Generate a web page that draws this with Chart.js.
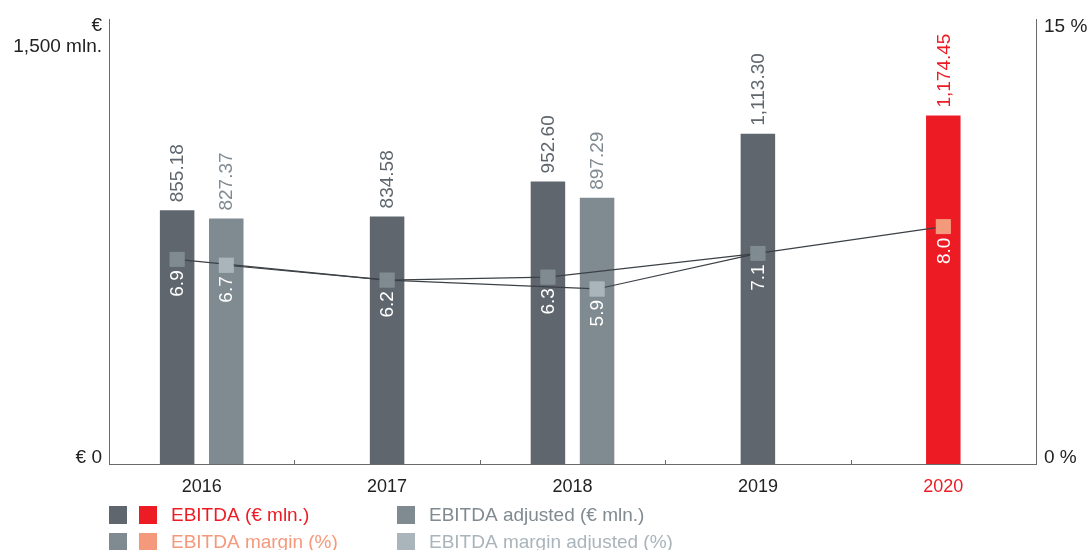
<!DOCTYPE html>
<html><head><meta charset="utf-8">
<script src="https://cdn.jsdelivr.net/npm/chart.js@4.4.0/dist/chart.umd.min.js"></script>
<style>html,body{margin:0;padding:0;background:#fff;} #wrap{width:1090px;height:550px;position:relative;}</style>
</head><body><div id="wrap"><canvas id="c"></canvas></div>
<script>
const categories = ['2016', '2017', '2018', '2019', '2020'];
const ebitda = [855.18, 834.58, 952.60, 1113.30, 1174.45];
const ebitdaAdjusted = [827.37, null, 897.29, null, null];
const ebitdaMargin = [6.9, 6.2, 6.3, 7.1, 8.0];
const ebitdaMarginAdjusted = [6.7, 6.2, 5.9, 7.1, null];
const leftAxisTicks = [0, 1500];
const leftAxisLabels = ['€ 0', '1,500 mln.'];
const leftAxisUnit = '€';
const rightAxisTicks = [0, 15];
const rightAxisLabels = ['0 %', '15 %'];
const legendLabels = ['EBITDA (€ mln.)', 'EBITDA adjusted (€ mln.)', 'EBITDA margin (%)', 'EBITDA margin adjusted (%)'];
const highlightIndex = 4;

const C = { dark:'#5f666d', red:'#ed1c24', mid:'#7f8a91', salmon:'#f4997b', light:'#a9b4bb', line:'#3c4146', axis:'#6a6a6a', text:'#222222' };
const FONT = '"Liberation Sans", Arial, Helvetica, sans-serif';
const fmt2 = v => v.toLocaleString('en-US', {minimumFractionDigits:2, maximumFractionDigits:2});

const custom = {
  id: 'custom',
  afterDatasetsUpdate(chart) {
    const barMeta = chart.getDatasetMeta(0), adjMeta = chart.getDatasetMeta(1);
    const pairs = [
      [2, i => barMeta.data[i]],
      [3, i => (ebitdaAdjusted[i] != null ? adjMeta.data[i] : barMeta.data[i])]
    ];
    pairs.forEach(([di, src]) => {
      const meta = chart.getDatasetMeta(di);
      meta.data.forEach((pt, i) => { const b = src(i); if (b) pt.x = b.x; });
      if (meta.dataset) meta.dataset._path = undefined;
    });
  },
  afterDatasetsDraw(chart) {
    const ctx = chart.ctx, area = chart.chartArea;
    // redraw markers on top of all lines
    [3, 2].forEach(di => chart.getDatasetMeta(di).data.forEach(p => p.draw(ctx, area)));
    ctx.save();
    ctx.font = '19px ' + FONT;
    // bar value labels
    [[0, ebitda, i => i === highlightIndex ? C.red : C.dark], [1, ebitdaAdjusted, () => C.mid]].forEach(([di, vals, col]) => {
      chart.getDatasetMeta(di).data.forEach((el, i) => {
        if (vals[i] == null) return;
        ctx.save();
        ctx.translate(el.x, el.y - 8);
        ctx.rotate(-Math.PI / 2);
        ctx.fillStyle = col(i);
        ctx.textAlign = 'left'; ctx.textBaseline = 'middle';
        ctx.fillText(fmt2(vals[i]), 0, 1);
        ctx.restore();
      });
    });
    // margin labels (white, inside bars)
    [[2, ebitdaMargin], [3, ebitdaMarginAdjusted]].forEach(([di, vals]) => {
      chart.getDatasetMeta(di).data.forEach((pt, i) => {
        if (vals[i] == null) return;
        if (di === 3 && ebitdaAdjusted[i] == null) return;
        ctx.save();
        ctx.translate(pt.x, pt.y + 11);
        ctx.rotate(-Math.PI / 2);
        ctx.fillStyle = '#ffffff';
        ctx.textAlign = 'right'; ctx.textBaseline = 'middle';
        ctx.fillText(vals[i].toFixed(1), 0, 1);
        ctx.restore();
      });
    });
    ctx.restore();
  },
  afterDraw(chart) {
    const ctx = chart.ctx, area = chart.chartArea;
    const xs = chart.scales.x, y = chart.scales.y, y1 = chart.scales.y1;
    ctx.save();
    // small x-axis ticks between categories
    ctx.strokeStyle = C.axis; ctx.lineWidth = 1;
    for (let i = 0; i < categories.length - 1; i++) {
      const px = Math.round((xs.getPixelForValue(i) + xs.getPixelForValue(i + 1)) / 2) + 0.5;
      ctx.beginPath(); ctx.moveTo(px, area.bottom); ctx.lineTo(px, area.bottom - 4); ctx.stroke();
    }
    // axis labels
    ctx.font = '19px ' + FONT;
    ctx.fillStyle = C.text; ctx.textBaseline = 'middle';
    ctx.textAlign = 'right';
    const lx = area.left - 7;
    ctx.fillText(leftAxisLabels[0], lx, y.getPixelForValue(leftAxisTicks[0]) - 6);
    const yTop = y.getPixelForValue(leftAxisTicks[1]);
    ctx.fillText(leftAxisUnit, lx, yTop + 7);
    ctx.fillText(leftAxisLabels[1], lx, yTop + 28);
    ctx.textAlign = 'left';
    const rx = area.right + 8;
    ctx.fillText(rightAxisLabels[0], rx, y1.getPixelForValue(rightAxisTicks[0]) - 6);
    ctx.fillText(rightAxisLabels[1], rx, y1.getPixelForValue(rightAxisTicks[1]) + 8);
    // legend
    const items = [
      {sw:[C.dark, C.red], text:legendLabels[0], col:C.red, x:109, y:515},
      {sw:[C.mid], text:legendLabels[1], col:C.mid, x:397, y:515},
      {sw:[C.mid, C.salmon], text:legendLabels[2], col:C.salmon, x:109, y:542},
      {sw:[C.light], text:legendLabels[3], col:C.light, x:397, y:542}
    ];
    items.forEach(it => {
      let x = it.x;
      it.sw.forEach(c => { ctx.fillStyle = c; ctx.fillRect(x, it.y - 9, 18, 18); x += 30; });
      ctx.fillStyle = it.col; ctx.textAlign = 'left';
      ctx.fillText(it.text, x - 30 + 30 + 2, it.y + 1);
    });
    ctx.restore();
  }
};

new Chart(document.getElementById('c'), {
  data: {
    labels: categories,
    datasets: [
      { type:'bar', label:legendLabels[0], data:ebitda, yAxisID:'y', order:2,
        backgroundColor: categories.map((_, i) => i === highlightIndex ? C.red : C.dark),
        categoryPercentage:0.53, barPercentage:1, maxBarThickness:34.5, skipNull:true },
      { type:'bar', label:legendLabels[1], data:ebitdaAdjusted, yAxisID:'y', order:2,
        backgroundColor:C.mid, categoryPercentage:0.53, barPercentage:1, maxBarThickness:34.5, skipNull:true },
      { type:'line', label:legendLabels[2], data:ebitdaMargin, yAxisID:'y1', order:1,
        borderColor:C.line, borderWidth:1.2, tension:0, fill:false,
        pointStyle:'rect', pointRadius:10.5, pointBorderWidth:0,
        pointBackgroundColor: categories.map((_, i) => i === highlightIndex ? C.salmon : C.mid),
        pointBorderColor: categories.map((_, i) => i === highlightIndex ? C.salmon : C.mid) },
      { type:'line', label:legendLabels[3], data:ebitdaMarginAdjusted, yAxisID:'y1', order:1,
        borderColor:C.line, borderWidth:1.2, tension:0, fill:false,
        pointStyle:'rect', pointRadius: c => ebitdaAdjusted[c.dataIndex] == null ? 0 : 10.5, pointBorderWidth:0,
        pointBackgroundColor:C.light, pointBorderColor:C.light }
    ]
  },
  options: {
    responsive:true, maintainAspectRatio:false, animation:false, events:[],
    layout:{ padding:{ top:19, left:0, right:0, bottom:0 } },
    plugins:{ legend:{display:false}, tooltip:{enabled:false} },
    scales:{
      x:{ type:'category', offset:true,
        grid:{display:false, drawTicks:false},
        border:{display:true, color:C.axis, width:1},
        ticks:{ padding:12, color: c => c.index === highlightIndex ? C.red : C.text, font:{family:FONT, size:18} },
        afterFit: s => { s.height = 86; } },
      y:{ position:'left', min:0, max:1500,
        grid:{display:false, drawTicks:false}, border:{display:true, color:C.axis, width:1},
        ticks:{display:false}, afterFit: s => { s.width = 109; } },
      y1:{ position:'right', min:0, max:15,
        grid:{display:false, drawTicks:false}, border:{display:true, color:C.axis, width:1},
        ticks:{display:false}, afterFit: s => { s.width = 54; } }
    }
  },
  plugins:[custom]
});
</script>
</body></html>
